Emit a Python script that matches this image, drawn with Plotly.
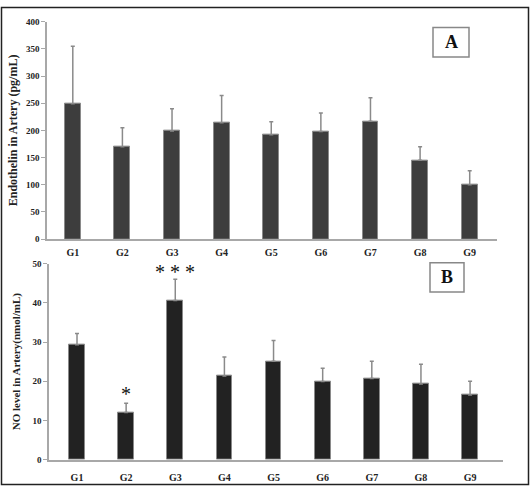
import plotly.graph_objects as go

groups = ["G1", "G2", "G3", "G4", "G5", "G6", "G7", "G8", "G9"]

# panel A: endothelin (pg/mL), bar value and top of error bar
endothelin = [249, 170, 199, 214, 192, 198, 217, 145, 100]
endothelin_top = [355, 205, 240, 264, 216, 232, 260, 170, 126]

# panel B: NO level (nmol/mL)
no_level = [29.3, 12.0, 40.6, 21.3, 25.1, 19.9, 20.7, 19.3, 16.5]
no_level_top = [32.2, 14.4, 46.0, 26.2, 30.4, 23.3, 25.1, 24.3, 20.0]

W, H = 531, 493
SERIF = "Liberation Serif"


def px_x(v):
    return v / W


def px_y(v):
    return (H - v) / H


fig = go.Figure()

fig.add_trace(go.Bar(
    x=groups, y=endothelin, xaxis="x", yaxis="y", width=0.32,
    marker=dict(color="#3d3d3d", line=dict(color="#8a8a8a", width=1)),
    error_y=dict(type="data", symmetric=False,
                 array=[t - v for t, v in zip(endothelin_top, endothelin)],
                 arrayminus=[0] * len(groups),
                 color="#8a8a8a", thickness=1.5, width=2),
    showlegend=False,
))

fig.add_trace(go.Bar(
    x=groups, y=no_level, xaxis="x2", yaxis="y2", width=0.32,
    marker=dict(color="#222222", line=dict(color="#8a8a8a", width=1)),
    error_y=dict(type="data", symmetric=False,
                 array=[round(t - v, 2) for t, v in zip(no_level_top, no_level)],
                 arrayminus=[0] * len(groups),
                 color="#8a8a8a", thickness=1.5, width=2),
    showlegend=False,
))

xtick_font = dict(family=SERIF, size=10, color="#222", weight="bold")
ytick_font = dict(family=SERIF, size=9, color="#222", weight="bold")

fig.update_layout(
    width=W, height=H,
    margin=dict(l=0, r=0, t=0, b=0),
    paper_bgcolor="white", plot_bgcolor="white",
    bargap=0,
    xaxis=dict(domain=[px_x(47), px_x(497)], anchor="y", range=[-0.52, 8.55],
               showline=True, linecolor="#a8a8a8", linewidth=1.5,
               ticks="", ticklabelstandoff=3, tickfont=xtick_font,
               showgrid=False, zeroline=False),
    yaxis=dict(domain=[px_y(239), px_y(17)], anchor="x", range=[0, 400],
               dtick=50, showline=True, linecolor="#a8a8a8", linewidth=1.5,
               ticks="outside", ticklen=4, tickcolor="#a8a8a8",
               tickfont=ytick_font, showgrid=False, zeroline=False,
               title=dict(text="Endothelin in Artery (pg/mL)", standoff=6,
                          font=dict(family=SERIF, size=12, color="#222", weight="bold"))),
    xaxis2=dict(domain=[px_x(49), px_x(503)], anchor="y2", range=[-0.57, 8.67],
                showline=True, linecolor="#a8a8a8", linewidth=1.5,
                ticks="", ticklabelstandoff=8, tickfont=xtick_font,
                showgrid=False, zeroline=False),
    yaxis2=dict(domain=[px_y(464), px_y(264)], anchor="x2", range=[0, 50],
                dtick=10, showline=True, linecolor="#a8a8a8", linewidth=1.5,
                ticks="outside", ticklen=4, tickcolor="#a8a8a8",
                tickfont=ytick_font, showgrid=False, zeroline=False,
                title=dict(text="NO level in Artery(nmol/mL)", standoff=10,
                           font=dict(family=SERIF, size=11, color="#222", weight="bold"))),
)

# outer frame and panel label boxes
fig.add_shape(type="rect", xref="paper", yref="paper",
              x0=px_x(1.5), x1=px_x(528.5), y0=px_y(489.5), y1=px_y(2.5),
              line=dict(color="#222", width=1.5))
for label, (x0, x1, y0, y1) in [("A", (433, 469, 23, 53)), ("B", (430, 464, 263, 293))]:
    fig.add_shape(type="rect", xref="paper", yref="paper",
                  x0=px_x(x0), x1=px_x(x1), y0=px_y(y1), y1=px_y(y0),
                  line=dict(color="#888", width=1.5), fillcolor="white")
    fig.add_annotation(x=px_x((x0 + x1) / 2), y=px_y((y0 + y1) / 2),
                       xref="paper", yref="paper", text=label, showarrow=False,
                       xanchor="center", yanchor="middle",
                       font=dict(family=SERIF, size=18, color="#111", weight="bold"))

# significance marks in panel B
fig.add_annotation(x="G2", y=no_level_top[1], xref="x2", yref="y2", text="*",
                   showarrow=False, yanchor="bottom", yshift=-4,
                   font=dict(family=SERIF, size=20, color="#111"))
fig.add_annotation(x="G3", y=no_level_top[2], xref="x2", yref="y2", text="* * *",
                   showarrow=False, yanchor="bottom", yshift=-6,
                   font=dict(family=SERIF, size=20, color="#111"))

fig.write_html("out.html", config={"displayModeBar": False},
               post_script="document.body.style.margin = '0px';")
